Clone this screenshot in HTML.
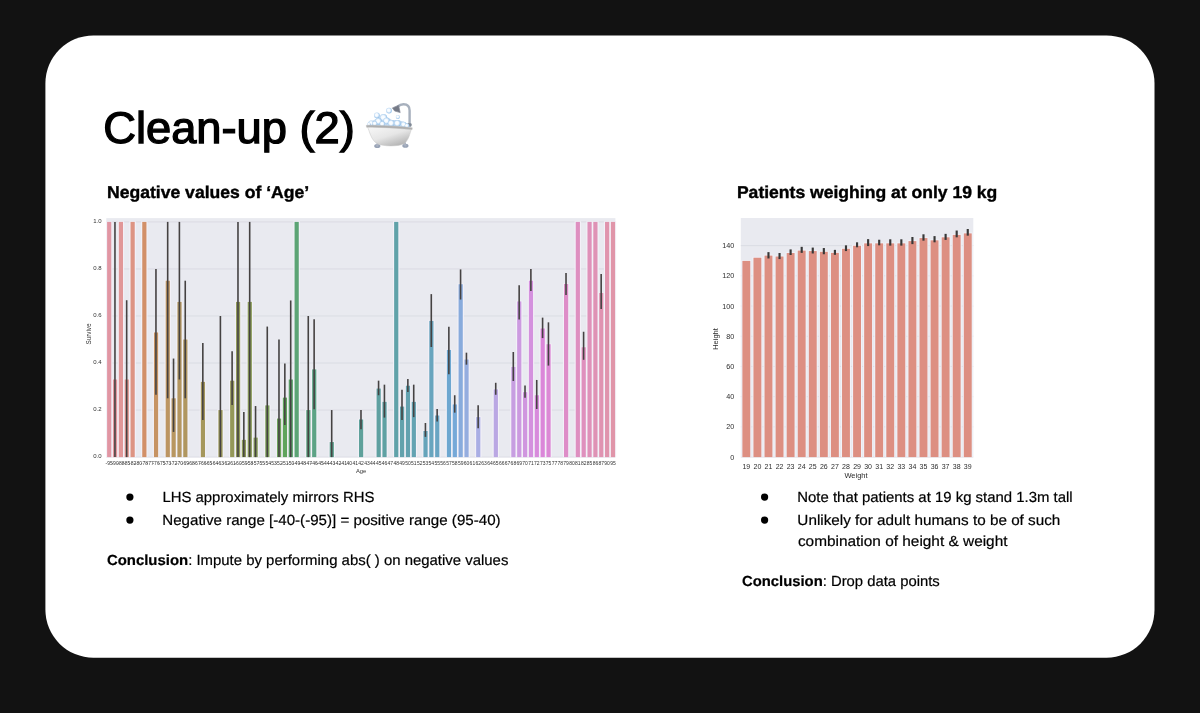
<!DOCTYPE html>
<html><head><meta charset="utf-8"><title>Clean-up (2)</title>
<style>
html,body{margin:0;padding:0;}
body{width:1200px;height:713px;background:#121212;overflow:hidden;position:relative;font-family:"Liberation Sans",sans-serif;}
#stage{position:absolute;left:0;top:0;width:1200px;height:713px;will-change:transform;}
.t{position:absolute;left:0;top:0;white-space:nowrap;text-rendering:geometricPrecision;color:#000;line-height:1;transform-origin:0 0;padding:0;margin:0;}
.t b{font-weight:700;}
.dot{position:absolute;width:7.2px;height:7.2px;border-radius:50%;background:#000;}
svg{position:absolute;left:0;top:0;font-family:"Liberation Sans",sans-serif;}
</style></head><body>
<div id="stage">

<svg width="1200" height="713" viewBox="0 0 1200 713">
<rect x="45.4" y="35.45" width="1109.1" height="622.25" rx="48" ry="48" fill="#fff"/>
<defs><filter id="soft" x="-2%" y="-2%" width="104%" height="104%"><feGaussianBlur stdDeviation="0.45"/></filter></defs>
<g id="chartL" filter="url(#soft)">
<rect x="106.3" y="218.1" width="509.1" height="239.0" fill="#e9eaf0"/>
<line x1="106.3" x2="615.4" y1="457.10" y2="457.10" stroke="#d7d8e0" stroke-width="0.8"/>
<line x1="106.3" x2="615.4" y1="410.06" y2="410.06" stroke="#d7d8e0" stroke-width="0.8"/>
<line x1="106.3" x2="615.4" y1="363.02" y2="363.02" stroke="#d7d8e0" stroke-width="0.8"/>
<line x1="106.3" x2="615.4" y1="315.98" y2="315.98" stroke="#d7d8e0" stroke-width="0.8"/>
<line x1="106.3" x2="615.4" y1="268.94" y2="268.94" stroke="#d7d8e0" stroke-width="0.8"/>
<line x1="106.3" x2="615.4" y1="221.90" y2="221.90" stroke="#d7d8e0" stroke-width="0.8"/>
<g fill="#f3f1f8"><rect x="106.00" y="221.30" width="6.4" height="235.80"/><rect x="111.86" y="378.88" width="6.4" height="78.22"/><rect x="117.72" y="221.30" width="6.4" height="235.80"/><rect x="123.57" y="378.88" width="6.4" height="78.22"/><rect x="129.43" y="221.30" width="6.4" height="235.80"/><rect x="141.15" y="221.30" width="6.4" height="235.80"/><rect x="152.86" y="331.84" width="6.4" height="125.26"/><rect x="164.58" y="280.10" width="6.4" height="177.00"/><rect x="170.44" y="397.70" width="6.4" height="59.40"/><rect x="176.30" y="301.27" width="6.4" height="155.83"/><rect x="182.15" y="338.90" width="6.4" height="118.20"/><rect x="199.73" y="381.24" width="6.4" height="75.86"/><rect x="217.30" y="409.46" width="6.4" height="47.64"/><rect x="229.02" y="380.06" width="6.4" height="77.04"/><rect x="234.88" y="301.27" width="6.4" height="155.83"/><rect x="240.73" y="439.21" width="6.4" height="17.89"/><rect x="246.59" y="301.27" width="6.4" height="155.83"/><rect x="252.45" y="436.98" width="6.4" height="20.12"/><rect x="264.17" y="404.76" width="6.4" height="52.34"/><rect x="275.88" y="417.93" width="6.4" height="39.17"/><rect x="281.74" y="396.99" width="6.4" height="60.11"/><rect x="287.60" y="378.88" width="6.4" height="78.22"/><rect x="293.46" y="221.30" width="6.4" height="235.80"/><rect x="305.17" y="409.46" width="6.4" height="47.64"/><rect x="311.03" y="368.77" width="6.4" height="88.33"/><rect x="328.60" y="441.45" width="6.4" height="15.65"/><rect x="357.89" y="418.87" width="6.4" height="38.23"/><rect x="375.47" y="387.92" width="6.4" height="69.18"/><rect x="381.33" y="401.23" width="6.4" height="55.87"/><rect x="393.04" y="221.30" width="6.4" height="235.80"/><rect x="398.90" y="405.93" width="6.4" height="51.17"/><rect x="404.76" y="385.09" width="6.4" height="72.01"/><rect x="410.62" y="401.23" width="6.4" height="55.87"/><rect x="422.33" y="430.39" width="6.4" height="26.71"/><rect x="428.19" y="320.32" width="6.4" height="136.78"/><rect x="434.05" y="414.87" width="6.4" height="42.23"/><rect x="445.76" y="349.32" width="6.4" height="107.78"/><rect x="451.62" y="403.82" width="6.4" height="53.28"/><rect x="457.48" y="283.63" width="6.4" height="173.47"/><rect x="463.34" y="358.89" width="6.4" height="98.21"/><rect x="475.05" y="416.52" width="6.4" height="40.58"/><rect x="492.63" y="388.76" width="6.4" height="68.34"/><rect x="510.20" y="366.28" width="6.4" height="90.82"/><rect x="516.06" y="300.80" width="6.4" height="156.30"/><rect x="521.92" y="391.58" width="6.4" height="65.52"/><rect x="527.78" y="280.10" width="6.4" height="177.00"/><rect x="533.63" y="394.64" width="6.4" height="62.46"/><rect x="539.49" y="327.85" width="6.4" height="129.25"/><rect x="545.35" y="343.60" width="6.4" height="113.50"/><rect x="562.92" y="283.39" width="6.4" height="173.71"/><rect x="574.64" y="221.30" width="6.4" height="235.80"/><rect x="580.50" y="346.66" width="6.4" height="110.44"/><rect x="586.36" y="221.30" width="6.4" height="235.80"/><rect x="592.21" y="221.30" width="6.4" height="235.80"/><rect x="598.07" y="292.33" width="6.4" height="164.77"/><rect x="603.93" y="221.30" width="6.4" height="235.80"/><rect x="609.79" y="221.30" width="6.4" height="235.80"/></g>
<rect x="107.10" y="221.90" width="4.2" height="235.20" fill="#e196a3"/>
<rect x="112.96" y="379.48" width="4.2" height="77.62" fill="#e1979e"/>
<rect x="118.82" y="221.90" width="4.2" height="235.20" fill="#e19798"/>
<rect x="124.67" y="379.48" width="4.2" height="77.62" fill="#df968f"/>
<rect x="130.53" y="221.90" width="4.2" height="235.20" fill="#dd9483"/>
<rect x="142.25" y="221.90" width="4.2" height="235.20" fill="#d29067"/>
<rect x="153.96" y="332.44" width="4.2" height="124.66" fill="#c69364"/>
<rect x="165.68" y="280.70" width="4.2" height="176.40" fill="#bc9562"/>
<rect x="171.54" y="398.30" width="4.2" height="58.80" fill="#b89661"/>
<rect x="177.40" y="301.87" width="4.2" height="155.23" fill="#b49660"/>
<rect x="183.25" y="339.50" width="4.2" height="117.60" fill="#b0965f"/>
<rect x="200.83" y="381.84" width="4.2" height="75.26" fill="#a5975c"/>
<rect x="218.40" y="410.06" width="4.2" height="47.04" fill="#9b975a"/>
<rect x="230.12" y="380.66" width="4.2" height="76.44" fill="#949859"/>
<rect x="235.98" y="301.87" width="4.2" height="155.23" fill="#919a5a"/>
<rect x="241.83" y="439.81" width="4.2" height="17.29" fill="#8e9b5a"/>
<rect x="247.69" y="301.87" width="4.2" height="155.23" fill="#8b9c5a"/>
<rect x="253.55" y="437.58" width="4.2" height="19.52" fill="#879d5a"/>
<rect x="265.27" y="405.36" width="4.2" height="51.74" fill="#7da05b"/>
<rect x="276.98" y="418.53" width="4.2" height="38.57" fill="#6da35b"/>
<rect x="282.84" y="397.59" width="4.2" height="59.51" fill="#5ea45c"/>
<rect x="288.70" y="379.48" width="4.2" height="77.62" fill="#5ca46b"/>
<rect x="294.56" y="221.90" width="4.2" height="235.20" fill="#5ca475"/>
<rect x="306.27" y="410.06" width="4.2" height="47.04" fill="#5da381"/>
<rect x="312.13" y="369.37" width="4.2" height="87.73" fill="#5da385"/>
<rect x="329.70" y="442.05" width="4.2" height="15.05" fill="#5ea28f"/>
<rect x="358.99" y="419.47" width="4.2" height="37.63" fill="#5ea19b"/>
<rect x="376.57" y="388.52" width="4.2" height="68.58" fill="#5fa0a1"/>
<rect x="382.43" y="401.83" width="4.2" height="55.27" fill="#5fa1a3"/>
<rect x="394.14" y="221.90" width="4.2" height="235.20" fill="#61a2a9"/>
<rect x="400.00" y="406.53" width="4.2" height="50.57" fill="#62a2ac"/>
<rect x="405.86" y="385.69" width="4.2" height="71.41" fill="#63a2af"/>
<rect x="411.72" y="401.83" width="4.2" height="55.27" fill="#64a3b2"/>
<rect x="423.43" y="430.99" width="4.2" height="26.11" fill="#66a4ba"/>
<rect x="429.29" y="320.92" width="4.2" height="136.18" fill="#68a5be"/>
<rect x="435.15" y="415.47" width="4.2" height="41.63" fill="#69a5c3"/>
<rect x="446.86" y="349.92" width="4.2" height="107.18" fill="#6da7d0"/>
<rect x="452.72" y="404.42" width="4.2" height="52.68" fill="#76a9d8"/>
<rect x="458.58" y="284.23" width="4.2" height="172.87" fill="#88abdc"/>
<rect x="464.44" y="359.49" width="4.2" height="97.61" fill="#95addf"/>
<rect x="476.15" y="417.12" width="4.2" height="39.98" fill="#a9aee4"/>
<rect x="493.73" y="389.36" width="4.2" height="67.74" fill="#baa7e3"/>
<rect x="511.30" y="366.88" width="4.2" height="90.22" fill="#c79ee1"/>
<rect x="517.16" y="301.40" width="4.2" height="155.70" fill="#cc9ae0"/>
<rect x="523.02" y="392.18" width="4.2" height="64.92" fill="#d096df"/>
<rect x="528.88" y="280.70" width="4.2" height="176.40" fill="#d491de"/>
<rect x="534.73" y="395.24" width="4.2" height="61.86" fill="#d88bdc"/>
<rect x="540.59" y="328.45" width="4.2" height="128.65" fill="#db86d9"/>
<rect x="546.45" y="344.20" width="4.2" height="112.90" fill="#dc88d5"/>
<rect x="564.02" y="283.99" width="4.2" height="173.11" fill="#de8dc8"/>
<rect x="575.74" y="221.90" width="4.2" height="235.20" fill="#de8fc0"/>
<rect x="581.60" y="347.26" width="4.2" height="109.84" fill="#df90bd"/>
<rect x="587.46" y="221.90" width="4.2" height="235.20" fill="#df91b9"/>
<rect x="593.31" y="221.90" width="4.2" height="235.20" fill="#df92b5"/>
<rect x="599.17" y="292.93" width="4.2" height="164.17" fill="#e093b1"/>
<rect x="605.03" y="221.90" width="4.2" height="235.20" fill="#e094ad"/>
<rect x="610.89" y="221.90" width="4.2" height="235.20" fill="#e095a9"/>
<g stroke="#454242" stroke-width="1.6"><line x1="114.96" x2="114.96" y1="221.90" y2="457.10"/><line x1="126.67" x2="126.67" y1="300.22" y2="457.10"/><line x1="155.96" x2="155.96" y1="268.94" y2="394.77"/><line x1="167.68" x2="167.68" y1="221.90" y2="398.30"/><line x1="173.54" x2="173.54" y1="358.55" y2="431.93"/><line x1="179.40" x2="179.40" y1="221.90" y2="379.48"/><line x1="185.25" x2="185.25" y1="280.70" y2="398.30"/><line x1="202.83" x2="202.83" y1="343.03" y2="419.94"/><line x1="220.40" x2="220.40" y1="315.98" y2="457.10"/><line x1="232.12" x2="232.12" y1="351.26" y2="404.89"/><line x1="237.98" x2="237.98" y1="221.90" y2="457.10"/><line x1="243.83" x2="243.83" y1="411.94" y2="457.10"/><line x1="249.69" x2="249.69" y1="221.90" y2="457.10"/><line x1="255.55" x2="255.55" y1="406.06" y2="457.10"/><line x1="267.27" x2="267.27" y1="326.56" y2="457.10"/><line x1="278.98" x2="278.98" y1="339.50" y2="457.10"/><line x1="284.84" x2="284.84" y1="363.49" y2="424.88"/><line x1="290.70" x2="290.70" y1="300.46" y2="457.10"/><line x1="308.27" x2="308.27" y1="315.98" y2="457.10"/><line x1="314.13" x2="314.13" y1="319.27" y2="409.35"/><line x1="331.70" x2="331.70" y1="410.06" y2="457.10"/><line x1="360.99" x2="360.99" y1="410.06" y2="429.35"/><line x1="378.57" x2="378.57" y1="380.66" y2="395.24"/><line x1="384.43" x2="384.43" y1="384.66" y2="417.59"/><line x1="402.00" x2="402.00" y1="389.83" y2="419.94"/><line x1="407.86" x2="407.86" y1="379.01" y2="391.95"/><line x1="413.72" x2="413.72" y1="384.66" y2="417.12"/><line x1="425.43" x2="425.43" y1="423.00" y2="436.87"/><line x1="431.29" x2="431.29" y1="294.11" y2="347.03"/><line x1="437.15" x2="437.15" y1="408.88" y2="421.58"/><line x1="448.86" x2="448.86" y1="326.80" y2="374.31"/><line x1="454.72" x2="454.72" y1="395.24" y2="412.65"/><line x1="460.58" x2="460.58" y1="269.41" y2="299.52"/><line x1="466.44" x2="466.44" y1="352.67" y2="364.67"/><line x1="478.15" x2="478.15" y1="405.36" y2="428.17"/><line x1="495.73" x2="495.73" y1="382.78" y2="394.77"/><line x1="513.30" x2="513.30" y1="351.97" y2="381.01"/><line x1="519.16" x2="519.16" y1="285.17" y2="319.51"/><line x1="525.02" x2="525.02" y1="385.60" y2="397.66"/><line x1="530.88" x2="530.88" y1="268.94" y2="291.05"/><line x1="536.73" x2="536.73" y1="379.95" y2="408.98"/><line x1="542.59" x2="542.59" y1="317.63" y2="338.09"/><line x1="548.45" x2="548.45" y1="322.33" y2="365.61"/><line x1="566.02" x2="566.02" y1="273.03" y2="295.12"/><line x1="583.60" x2="583.60" y1="331.74" y2="359.80"/><line x1="601.17" x2="601.17" y1="274.11" y2="308.92"/></g>
<text x="101.6" y="458.40" text-anchor="end" font-size="6" fill="#333">0.0</text>
<text x="101.6" y="411.36" text-anchor="end" font-size="6" fill="#333">0.2</text>
<text x="101.6" y="364.32" text-anchor="end" font-size="6" fill="#333">0.4</text>
<text x="101.6" y="317.28" text-anchor="end" font-size="6" fill="#333">0.6</text>
<text x="101.6" y="270.24" text-anchor="end" font-size="6" fill="#333">0.8</text>
<text x="101.6" y="223.20" text-anchor="end" font-size="6" fill="#333">1.0</text>
<g font-size="5" fill="#333" text-anchor="middle"><text x="109.20" y="465.2">-95</text><text x="115.06" y="465.2">-90</text><text x="120.92" y="465.2">-88</text><text x="126.77" y="465.2">-85</text><text x="132.63" y="465.2">-82</text><text x="138.49" y="465.2">-80</text><text x="144.35" y="465.2">-78</text><text x="150.21" y="465.2">-77</text><text x="156.06" y="465.2">-76</text><text x="161.92" y="465.2">-75</text><text x="167.78" y="465.2">-73</text><text x="173.64" y="465.2">-72</text><text x="179.50" y="465.2">-70</text><text x="185.35" y="465.2">-69</text><text x="191.21" y="465.2">-68</text><text x="197.07" y="465.2">-67</text><text x="202.93" y="465.2">-66</text><text x="208.79" y="465.2">-65</text><text x="214.64" y="465.2">-64</text><text x="220.50" y="465.2">-63</text><text x="226.36" y="465.2">-62</text><text x="232.22" y="465.2">-61</text><text x="238.08" y="465.2">-60</text><text x="243.93" y="465.2">-59</text><text x="249.79" y="465.2">-58</text><text x="255.65" y="465.2">-57</text><text x="261.51" y="465.2">-55</text><text x="267.37" y="465.2">-54</text><text x="273.22" y="465.2">-53</text><text x="279.08" y="465.2">-52</text><text x="284.94" y="465.2">-51</text><text x="290.80" y="465.2">-50</text><text x="296.66" y="465.2">-49</text><text x="302.51" y="465.2">-48</text><text x="308.37" y="465.2">-47</text><text x="314.23" y="465.2">-46</text><text x="320.09" y="465.2">-45</text><text x="325.95" y="465.2">-44</text><text x="331.80" y="465.2">-43</text><text x="337.66" y="465.2">-42</text><text x="343.52" y="465.2">-41</text><text x="349.38" y="465.2">40</text><text x="355.24" y="465.2">41</text><text x="361.09" y="465.2">42</text><text x="366.95" y="465.2">43</text><text x="372.81" y="465.2">44</text><text x="378.67" y="465.2">45</text><text x="384.53" y="465.2">46</text><text x="390.38" y="465.2">47</text><text x="396.24" y="465.2">48</text><text x="402.10" y="465.2">49</text><text x="407.96" y="465.2">50</text><text x="413.82" y="465.2">51</text><text x="419.67" y="465.2">52</text><text x="425.53" y="465.2">53</text><text x="431.39" y="465.2">54</text><text x="437.25" y="465.2">55</text><text x="443.11" y="465.2">56</text><text x="448.96" y="465.2">57</text><text x="454.82" y="465.2">58</text><text x="460.68" y="465.2">59</text><text x="466.54" y="465.2">60</text><text x="472.40" y="465.2">61</text><text x="478.25" y="465.2">62</text><text x="484.11" y="465.2">63</text><text x="489.97" y="465.2">64</text><text x="495.83" y="465.2">65</text><text x="501.69" y="465.2">66</text><text x="507.54" y="465.2">67</text><text x="513.40" y="465.2">68</text><text x="519.26" y="465.2">69</text><text x="525.12" y="465.2">70</text><text x="530.98" y="465.2">71</text><text x="536.83" y="465.2">72</text><text x="542.69" y="465.2">73</text><text x="548.55" y="465.2">75</text><text x="554.41" y="465.2">77</text><text x="560.27" y="465.2">78</text><text x="566.12" y="465.2">79</text><text x="571.98" y="465.2">80</text><text x="577.84" y="465.2">81</text><text x="583.70" y="465.2">82</text><text x="589.56" y="465.2">85</text><text x="595.41" y="465.2">86</text><text x="601.27" y="465.2">87</text><text x="607.13" y="465.2">90</text><text x="612.99" y="465.2">95</text></g>
<text x="361.1" y="472.8" text-anchor="middle" font-size="5.8" fill="#333">Age</text>
<text transform="translate(90.7,334) rotate(-90)" text-anchor="middle" font-size="6.3" fill="#333">Survive</text>
</g>
<g id="chartR" filter="url(#soft)">
<rect x="740.8" y="218.0" width="232.5" height="239.1" fill="#e9eaf0"/>
<line x1="740.8" x2="973.3" y1="457.10" y2="457.10" stroke="#d7d8e0" stroke-width="0.8"/>
<line x1="740.8" x2="973.3" y1="426.89" y2="426.89" stroke="#d7d8e0" stroke-width="0.8"/>
<line x1="740.8" x2="973.3" y1="396.68" y2="396.68" stroke="#d7d8e0" stroke-width="0.8"/>
<line x1="740.8" x2="973.3" y1="366.47" y2="366.47" stroke="#d7d8e0" stroke-width="0.8"/>
<line x1="740.8" x2="973.3" y1="336.26" y2="336.26" stroke="#d7d8e0" stroke-width="0.8"/>
<line x1="740.8" x2="973.3" y1="306.05" y2="306.05" stroke="#d7d8e0" stroke-width="0.8"/>
<line x1="740.8" x2="973.3" y1="275.84" y2="275.84" stroke="#d7d8e0" stroke-width="0.8"/>
<line x1="740.8" x2="973.3" y1="245.63" y2="245.63" stroke="#d7d8e0" stroke-width="0.8"/>
<g fill="#f2f3f9"><rect x="741.44" y="260.09" width="9.8" height="197.01"/><rect x="752.51" y="256.91" width="9.8" height="200.19"/><rect x="763.58" y="254.80" width="9.8" height="202.30"/><rect x="774.65" y="255.71" width="9.8" height="201.39"/><rect x="785.72" y="252.23" width="9.8" height="204.87"/><rect x="796.79" y="249.81" width="9.8" height="207.29"/><rect x="807.86" y="250.27" width="9.8" height="206.83"/><rect x="818.94" y="251.02" width="9.8" height="206.08"/><rect x="830.01" y="252.08" width="9.8" height="205.02"/><rect x="841.08" y="248.00" width="9.8" height="209.10"/><rect x="852.15" y="244.98" width="9.8" height="212.12"/><rect x="863.22" y="242.56" width="9.8" height="214.54"/><rect x="874.29" y="242.56" width="9.8" height="214.54"/><rect x="885.36" y="242.56" width="9.8" height="214.54"/><rect x="896.44" y="242.56" width="9.8" height="214.54"/><rect x="907.51" y="240.30" width="9.8" height="216.80"/><rect x="918.58" y="237.28" width="9.8" height="219.82"/><rect x="929.65" y="239.54" width="9.8" height="217.56"/><rect x="940.72" y="236.52" width="9.8" height="220.58"/><rect x="951.79" y="234.11" width="9.8" height="222.99"/><rect x="962.86" y="232.59" width="9.8" height="224.51"/></g>
<g fill="#dd8f82"><rect x="742.39" y="260.89" width="7.9" height="196.21"/><rect x="753.46" y="257.71" width="7.9" height="199.39"/><rect x="764.53" y="255.60" width="7.9" height="201.50"/><rect x="775.60" y="256.51" width="7.9" height="200.59"/><rect x="786.67" y="253.03" width="7.9" height="204.07"/><rect x="797.74" y="250.61" width="7.9" height="206.49"/><rect x="808.81" y="251.07" width="7.9" height="206.03"/><rect x="819.89" y="251.82" width="7.9" height="205.28"/><rect x="830.96" y="252.88" width="7.9" height="204.22"/><rect x="842.03" y="248.80" width="7.9" height="208.30"/><rect x="853.10" y="245.78" width="7.9" height="211.32"/><rect x="864.17" y="243.36" width="7.9" height="213.74"/><rect x="875.24" y="243.36" width="7.9" height="213.74"/><rect x="886.31" y="243.36" width="7.9" height="213.74"/><rect x="897.39" y="243.36" width="7.9" height="213.74"/><rect x="908.46" y="241.10" width="7.9" height="216.00"/><rect x="919.53" y="238.08" width="7.9" height="219.02"/><rect x="930.60" y="240.34" width="7.9" height="216.76"/><rect x="941.67" y="237.32" width="7.9" height="219.78"/><rect x="952.74" y="234.91" width="7.9" height="222.19"/><rect x="963.81" y="233.39" width="7.9" height="223.71"/></g>
<g stroke="#383838" stroke-width="2.15"><line x1="768.48" x2="768.48" y1="252.13" y2="258.47"/><line x1="779.55" x2="779.55" y1="253.03" y2="259.07"/><line x1="790.62" x2="790.62" y1="249.41" y2="255.00"/><line x1="801.69" x2="801.69" y1="246.84" y2="252.88"/><line x1="812.76" x2="812.76" y1="247.59" y2="253.48"/><line x1="823.84" x2="823.84" y1="248.05" y2="254.24"/><line x1="834.91" x2="834.91" y1="249.86" y2="254.84"/><line x1="845.98" x2="845.98" y1="245.33" y2="251.07"/><line x1="857.05" x2="857.05" y1="242.31" y2="247.29"/><line x1="868.12" x2="868.12" y1="239.13" y2="246.08"/><line x1="879.19" x2="879.19" y1="239.74" y2="245.33"/><line x1="890.26" x2="890.26" y1="239.29" y2="245.63"/><line x1="901.34" x2="901.34" y1="239.29" y2="245.63"/><line x1="912.41" x2="912.41" y1="237.02" y2="244.12"/><line x1="923.48" x2="923.48" y1="234.30" y2="240.65"/><line x1="934.55" x2="934.55" y1="236.11" y2="242.31"/><line x1="945.62" x2="945.62" y1="233.85" y2="239.89"/><line x1="956.69" x2="956.69" y1="230.53" y2="237.32"/><line x1="967.76" x2="967.76" y1="229.01" y2="235.66"/></g>
<text x="734.2" y="459.65" text-anchor="end" font-size="7.2" fill="#2c2c2c">0</text>
<text x="734.2" y="429.44" text-anchor="end" font-size="7.2" fill="#2c2c2c">20</text>
<text x="734.2" y="399.23" text-anchor="end" font-size="7.2" fill="#2c2c2c">40</text>
<text x="734.2" y="369.02" text-anchor="end" font-size="7.2" fill="#2c2c2c">60</text>
<text x="734.2" y="338.81" text-anchor="end" font-size="7.2" fill="#2c2c2c">80</text>
<text x="734.2" y="308.60" text-anchor="end" font-size="7.2" fill="#2c2c2c">100</text>
<text x="734.2" y="278.39" text-anchor="end" font-size="7.2" fill="#2c2c2c">120</text>
<text x="734.2" y="248.18" text-anchor="end" font-size="7.2" fill="#2c2c2c">140</text>
<g font-size="7" fill="#2c2c2c" text-anchor="middle"><text x="746.34" y="468.8">19</text><text x="757.41" y="468.8">20</text><text x="768.48" y="468.8">21</text><text x="779.55" y="468.8">22</text><text x="790.62" y="468.8">23</text><text x="801.69" y="468.8">24</text><text x="812.76" y="468.8">25</text><text x="823.84" y="468.8">26</text><text x="834.91" y="468.8">27</text><text x="845.98" y="468.8">28</text><text x="857.05" y="468.8">29</text><text x="868.12" y="468.8">30</text><text x="879.19" y="468.8">31</text><text x="890.26" y="468.8">32</text><text x="901.34" y="468.8">33</text><text x="912.41" y="468.8">34</text><text x="923.48" y="468.8">35</text><text x="934.55" y="468.8">36</text><text x="945.62" y="468.8">37</text><text x="956.69" y="468.8">38</text><text x="967.76" y="468.8">39</text></g>
<text x="856" y="478.4" text-anchor="middle" font-size="7.5" fill="#2c2c2c">Weight</text>
<text transform="translate(717.6,339) rotate(-90)" text-anchor="middle" font-size="7.5" fill="#2c2c2c">Height</text>
</g>
<defs>
<linearGradient id="tb" x1="0.1" y1="0" x2="0.8" y2="1"><stop offset="0" stop-color="#f7f7f7"/><stop offset="0.5" stop-color="#e6e6e6"/><stop offset="1" stop-color="#aeaeae"/></linearGradient>
<radialGradient id="bb" cx="0.45" cy="0.45" r="0.55"><stop offset="0" stop-color="#ffffff"/><stop offset="0.45" stop-color="#f3f9ff"/><stop offset="1" stop-color="#93bfe8"/></radialGradient>
</defs>
<g id="tub">
<path d="M409.6 126 L409.6 110.6 C409.6 105.8 406.6 104.3 403.5 104.3 C401 104.3 399.4 105 398.2 106.4" fill="none" stroke="#a7b0bd" stroke-width="2.4" stroke-linecap="round"/>
<rect x="407.2" y="123.2" width="4.4" height="3.4" rx="1" fill="#7f8894"/>
<path d="M392.4 107.9 L398.6 105.2 L400.2 112.6 L394.6 111 Z" fill="#747986" stroke="#8a8f9c" stroke-width="0.7" stroke-linejoin="round"/>
<ellipse cx="377.3" cy="146" rx="3.1" ry="2" fill="#97a2b5"/>
<ellipse cx="405.4" cy="145.7" rx="3.1" ry="2" fill="#97a2b5"/>
<path d="M378.8 141 L377.2 145.5 M403.8 141 L405.4 145.3" stroke="#a9b1c0" stroke-width="2.4" stroke-linecap="round"/>
<path d="M369 126 L370 122 L375 119.5 L379 117 L383 114.5 L388 117.5 L392 120 L398 120 L404 121.8 L409 124.5 L409.5 127.5 Z" fill="#c4dbf2"/>
<g fill="url(#bb)">
<circle cx="389" cy="110.6" r="2.9"/><circle cx="376.9" cy="115.3" r="2.9"/><circle cx="397.8" cy="116.9" r="2"/>
<circle cx="383.5" cy="117.8" r="3.7"/><circle cx="371.2" cy="123.3" r="2.8"/><circle cx="378.4" cy="121.4" r="3.3"/>
<circle cx="386.5" cy="121" r="3.3"/><circle cx="374.8" cy="123.6" r="2.5"/><circle cx="382.3" cy="124" r="2.7"/>
<circle cx="391.2" cy="123.3" r="3.3"/><circle cx="397.4" cy="123.4" r="3.3"/><circle cx="403.6" cy="124.6" r="2.8"/>
<circle cx="406.9" cy="125.8" r="2.2"/><circle cx="368.8" cy="124.2" r="1.8"/>
</g>
<path d="M367.3 126.3 C369.5 131 371 140.5 377.5 143.8 C383 146.5 398 146.6 403.5 144 C408.5 141.4 410 133 411.6 128.6 Z" fill="url(#tb)" stroke="#c4c4c4" stroke-width="0.5"/>
<path d="M366.3 125.3 C375 125 400 126 412.3 127.8 L412.1 129.6 C400 128.1 376 127.1 366.5 127.2 Z" fill="#acacac" stroke="#c2c2c2" stroke-width="0.5"/>
</g>

<circle cx="129.9" cy="497.1" r="3.6" fill="#000"/><circle cx="129.9" cy="520.1" r="3.6" fill="#000"/><circle cx="764.6" cy="497.1" r="3.6" fill="#000"/><circle cx="764.6" cy="520.1" r="3.6" fill="#000"/>
</svg>
<div class="t" id="title" style="font-size:44.3px;font-weight:400;transform:translate(103.22px,107.00px) scaleX(1.0221);-webkit-text-stroke:1.3px #000;">Clean-up (2)</div>
<div class="t" id="h1" style="font-size:17.1px;font-weight:700;transform:translate(106.97px,184.00px) scaleX(1.0283);-webkit-text-stroke:0.4px #000;">Negative values of &lsquo;Age&rsquo;</div>
<div class="t" id="h2" style="font-size:17.1px;font-weight:700;transform:translate(736.91px,184.00px) scaleX(1.0269);-webkit-text-stroke:0.4px #000;">Patients weighing at only 19 kg</div>
<div class="t" id="l1" style="font-size:14.6px;font-weight:400;transform:translate(162.40px,491.00px) scaleX(1.0213);-webkit-text-stroke:0.2px #000;">LHS approximately mirrors RHS</div>
<div class="t" id="l2" style="font-size:14.6px;font-weight:400;transform:translate(162.25px,514.00px) scaleX(1.0363);-webkit-text-stroke:0.2px #000;">Negative range [-40-(-95)] = positive range (95-40)</div>
<div class="t" id="l3" style="font-size:14.6px;font-weight:400;transform:translate(106.89px,554.00px) scaleX(1.0226);-webkit-text-stroke:0.2px #000;"><b>Conclusion</b>: Impute by performing abs( ) on negative values</div>
<div class="t" id="r1" style="font-size:14.6px;font-weight:400;transform:translate(797.28px,491.00px) scaleX(1.0223);-webkit-text-stroke:0.2px #000;">Note that patients at 19 kg stand 1.3m tall</div>
<div class="t" id="r2" style="font-size:14.6px;font-weight:400;transform:translate(797.37px,514.00px) scaleX(1.0457);-webkit-text-stroke:0.2px #000;">Unlikely for adult humans to be of such</div>
<div class="t" id="r3" style="font-size:14.6px;font-weight:400;transform:translate(797.90px,535.00px) scaleX(1.0546);-webkit-text-stroke:0.2px #000;">combination of height &amp; weight</div>
<div class="t" id="r4" style="font-size:14.6px;font-weight:400;transform:translate(741.99px,575.00px) scaleX(1.0156);-webkit-text-stroke:0.2px #000;"><b>Conclusion</b>: Drop data points</div>
</div>
</body></html>
